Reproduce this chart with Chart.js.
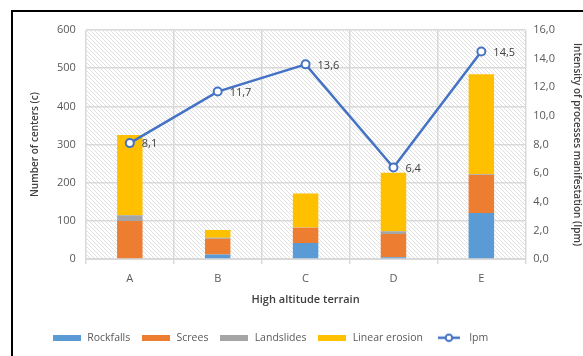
<!DOCTYPE html>
<html>
<head>
<meta charset="utf-8">
<script src="https://cdn.jsdelivr.net/npm/chart.js@4/dist/chart.umd.min.js"></script>
<style>
  html, body { margin: 0; padding: 0; background: #fff; }
  #wrap { width: 583px; height: 356px; position: relative; }
</style>
</head>
<body>
<div id="wrap"><canvas id="c" width="583" height="356"></canvas></div>
<script>
// Terrain categories and process counts
const terrains = ['A', 'B', 'C', 'D', 'E'];
const rockfalls = [0, 12, 42, 5, 121];
const screes = [100, 41, 40, 61, 99];
const landslides = [15, 3, 1, 7, 2];
const linearErosion = [210, 20, 89, 153, 262];
// Intensity of processes manifestation
const ipm = [8.1, 11.7, 13.6, 6.4, 14.5];

const FONT = "'Open Sans', 'Liberation Sans', sans-serif";
const TEXT = '#595959';

// Small legend swatches
function swatch(color) {
  const c = document.createElement('canvas');
  c.width = 28; c.height = 6;
  const g = c.getContext('2d');
  g.fillStyle = color; g.fillRect(0, 0, 28, 6);
  return c;
}
function lineSwatch(color) {
  const c = document.createElement('canvas');
  c.width = 22; c.height = 10;
  const g = c.getContext('2d');
  g.strokeStyle = color; g.lineWidth = 2.5;
  g.beginPath(); g.moveTo(0, 5); g.lineTo(22, 5); g.stroke();
  g.fillStyle = '#fff'; g.lineWidth = 2;
  g.beginPath(); g.arc(11, 5, 3.3, 0, Math.PI * 2); g.fill(); g.stroke();
  return c;
}

// Diagonal hatch for the plot background
function hatch() {
  const c = document.createElement('canvas');
  c.width = 4; c.height = 4;
  const g = c.getContext('2d');
  g.fillStyle = '#fff'; g.fillRect(0, 0, 4, 4);
  g.strokeStyle = '#e0e0e0'; g.lineWidth = 1;
  g.beginPath();
  g.moveTo(0, 0); g.lineTo(4, 4);
  g.moveTo(-2, 2); g.lineTo(2, 6);
  g.moveTo(2, -2); g.lineTo(6, 2);
  g.stroke();
  return c;
}

const frameAndBackground = {
  id: 'frameAndBackground',
  afterLayout(chart) {
    // start the legend row a little left of centre
    if (chart.legend) {
      const shift = 52 - (chart.legend.left + chart.options.plugins.legend.labels.padding);
      chart.legend.left += shift;
      chart.legend.right += shift;
    }
  },
  beforeDraw(chart) {
    const ctx = chart.ctx, a = chart.chartArea;
    ctx.save();
    ctx.fillStyle = ctx.createPattern(hatch(), 'repeat');
    ctx.fillRect(a.left, a.top, a.right - a.left, a.bottom - a.top);
    ctx.strokeStyle = '#000'; ctx.lineWidth = 2;
    ctx.beginPath();
    ctx.moveTo(12, 356); ctx.lineTo(12, 11); ctx.lineTo(583, 11);
    ctx.stroke();
    ctx.restore();
  }
};

const valueLabels = {
  id: 'valueLabels',
  afterDatasetsDraw(chart) {
    const idx = chart.data.datasets.findIndex(d => d.type === 'line');
    const meta = chart.getDatasetMeta(idx);
    const ctx = chart.ctx;
    ctx.save();
    ctx.font = '11px ' + FONT;
    ctx.fillStyle = '#404040';
    ctx.textBaseline = 'middle';
    ctx.textAlign = 'left';
    meta.data.forEach((p, i) => {
      ctx.fillText(ipm[i].toFixed(1).replace('.', ','), p.x + 12, p.y + 1);
    });
    ctx.restore();
  }
};

const barColors = ['#5B9BD5', '#ED7D31', '#A5A5A5', '#FFC000'];

new Chart(document.getElementById('c'), {
  data: {
    labels: terrains,
    datasets: [
      { type: 'bar', label: 'Rockfalls', data: rockfalls, backgroundColor: barColors[0], yAxisID: 'y', order: 1 },
      { type: 'bar', label: 'Screes', data: screes, backgroundColor: barColors[1], yAxisID: 'y', order: 1 },
      { type: 'bar', label: 'Landslides', data: landslides, backgroundColor: barColors[2], yAxisID: 'y', order: 1 },
      { type: 'bar', label: 'Linear erosion', data: linearErosion, backgroundColor: barColors[3], yAxisID: 'y', order: 1 },
      { type: 'line', label: 'Ipm', data: ipm, borderColor: '#4472C4', borderWidth: 2.5,
        pointRadius: 4, pointBorderWidth: 2, pointBackgroundColor: '#fff', pointBorderColor: '#4472C4',
        yAxisID: 'y1', order: 0, tension: 0 }
    ]
  },
  options: {
    responsive: false,
    animation: false,
    layout: { padding: { left: 24, right: 0, top: 30, bottom: 3 } },
    datasets: { bar: { categoryPercentage: 1, barPercentage: 0.29, stack: 's' } },
    plugins: {
      tooltip: { enabled: false },
      legend: {
        position: 'bottom',
        align: 'start',
        labels: {
          usePointStyle: true,
          pointStyleWidth: 30,
          boxHeight: 10,
          padding: 11,
          color: TEXT,
          font: { family: FONT, size: 10.5 },
          generateLabels(chart) {
            return chart.data.datasets.map((d, i) => ({
              text: d.label,
              datasetIndex: i,
              pointStyle: d.type === 'line' ? lineSwatch(d.borderColor) : swatch(d.backgroundColor),
              fillStyle: 'transparent', strokeStyle: 'transparent', lineWidth: 0,
              fontColor: TEXT, hidden: false
            }));
          }
        }
      }
    },
    scales: {
      x: {
        stacked: true,
        grid: { color: '#d9d9d9', lineWidth: 1.5, drawTicks: true, tickLength: 5 },
        border: { color: '#d9d9d9' },
        ticks: { color: TEXT, font: { family: FONT, size: 11 }, padding: 8 },
        title: { display: true, text: 'High altitude terrain', color: '#404040',
                 font: { family: FONT, size: 11, weight: '600' }, padding: { top: 0, bottom: 15 } }
      },
      y: {
        stacked: true, min: 0, max: 600,
        ticks: { stepSize: 100, color: TEXT, font: { family: FONT, size: 11 }, padding: 10 },
        grid: { color: '#d9d9d9', lineWidth: 1.5, drawTicks: false },
        border: { display: false },
        title: { display: true, text: 'Number of centers (c)', color: '#404040',
                 font: { family: FONT, size: 10, weight: '600' }, padding: { top: 5, bottom: 6 } }
      },
      y1: {
        position: 'right', min: 0, max: 16,
        ticks: { stepSize: 2, color: TEXT, font: { family: FONT, size: 11 }, padding: 8,
                 callback: v => v.toFixed(1).replace('.', ',') },
        grid: { display: false, drawTicks: false },
        border: { display: false },
        title: { display: true, text: 'Intensity of processes manifestation (Ipm)', color: '#404040',
                 font: { family: FONT, size: 10, weight: '600' }, padding: { top: 0, bottom: 8 } }
      }
    }
  },
  plugins: [frameAndBackground, valueLabels]
});
</script>
</body>
</html>
